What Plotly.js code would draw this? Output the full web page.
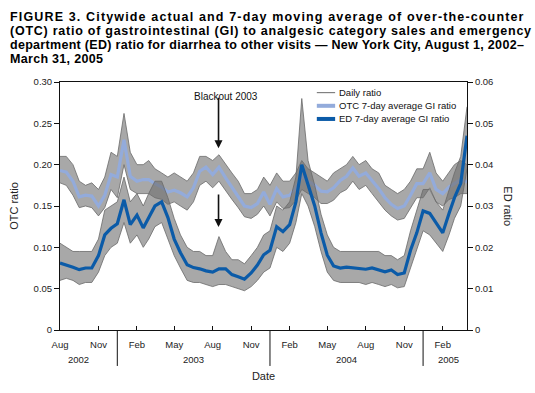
<!DOCTYPE html>
<html>
<head>
<meta charset="utf-8">
<script src="https://cdn.plot.ly/plotly-3.0.1.min.js"></script>
<style>
  html, body { margin: 0; padding: 0; background: #fff; }
  #plot { width: 535px; height: 393px; }
</style>
</head>
<body>
<div id="plot"></div>
<script>
/* ===========================================
   Data (half-month steps)
   =========================================== */

const dates = [
  '2002-08-01','2002-08-16','2002-09-01','2002-09-16','2002-10-01','2002-10-16','2002-11-01','2002-11-16','2002-12-01','2002-12-16',
  '2003-01-01','2003-01-16','2003-02-01','2003-02-16','2003-03-01','2003-03-16','2003-04-01','2003-04-16','2003-05-01','2003-05-16',
  '2003-06-01','2003-06-16','2003-07-01','2003-07-16','2003-08-01','2003-08-16','2003-09-01','2003-09-16','2003-10-01','2003-10-16',
  '2003-11-01','2003-11-16','2003-12-01','2003-12-16','2004-01-01','2004-01-16','2004-02-01','2004-02-16','2004-03-01','2004-03-16',
  '2004-04-01','2004-04-16','2004-05-01','2004-05-16','2004-06-01','2004-06-16','2004-07-01','2004-07-16','2004-08-01','2004-08-16',
  '2004-09-01','2004-09-16','2004-10-01','2004-10-16','2004-11-01','2004-11-16','2004-12-01','2004-12-16','2005-01-01','2005-01-16',
  '2005-02-01','2005-02-16','2005-03-01','2005-03-16','2005-03-31'
];

// OTC ratio, 7-day average (left axis)
const otcAvg = [
  0.193,0.191,0.180,0.161,0.163,0.162,0.150,0.163,0.188,0.185,
  0.230,0.186,0.180,0.182,0.182,0.177,0.173,0.167,0.169,0.166,
  0.161,0.172,0.192,0.197,0.188,0.197,0.184,0.173,0.161,0.150,
  0.148,0.153,0.167,0.152,0.171,0.161,0.163,0.172,0.186,0.180,
  0.175,0.168,0.167,0.172,0.181,0.186,0.196,0.186,0.190,0.181,
  0.171,0.160,0.152,0.147,0.150,0.163,0.177,0.177,0.190,0.170,
  0.165,0.173,0.177,0.182,0.179
];
// OTC daily ratio, upper and lower reach of the daily spikes
const otcHi = [
  0.210,0.210,0.200,0.180,0.175,0.178,0.170,0.185,0.215,0.210,
  0.262,0.215,0.200,0.200,0.205,0.195,0.190,0.185,0.190,0.185,
  0.180,0.190,0.210,0.210,0.205,0.212,0.200,0.190,0.180,0.165,
  0.165,0.170,0.185,0.175,0.190,0.180,0.180,0.190,0.205,0.195,
  0.190,0.185,0.180,0.190,0.195,0.200,0.210,0.200,0.205,0.195,
  0.190,0.175,0.170,0.165,0.170,0.180,0.195,0.195,0.215,0.190,
  0.180,0.190,0.200,0.205,0.200
];
const otcLo = [
  0.178,0.175,0.163,0.148,0.150,0.148,0.138,0.148,0.170,0.160,
  0.200,0.170,0.165,0.165,0.165,0.160,0.158,0.152,0.155,0.150,
  0.145,0.155,0.175,0.180,0.172,0.180,0.168,0.158,0.148,0.137,
  0.135,0.140,0.150,0.138,0.155,0.147,0.148,0.157,0.170,0.165,
  0.160,0.153,0.153,0.157,0.166,0.170,0.180,0.170,0.175,0.165,
  0.155,0.145,0.138,0.133,0.135,0.148,0.160,0.160,0.172,0.155,
  0.150,0.158,0.160,0.165,0.165
];

// ED ratio, 7-day average (right axis)
const edAvg = [
  0.0162,0.0158,0.0152,0.0146,0.0150,0.0150,0.0180,0.0230,0.0246,0.0257,
  0.0315,0.0255,0.0278,0.0247,0.0272,0.0300,0.0310,0.0272,0.0220,0.0187,
  0.0158,0.0151,0.0148,0.0143,0.0140,0.0148,0.0148,0.0134,0.0129,0.0123,
  0.0138,0.0157,0.0182,0.0193,0.0250,0.0238,0.0255,0.0310,0.0400,0.0352,
  0.0300,0.0235,0.0181,0.0155,0.0150,0.0152,0.0151,0.0150,0.0147,0.0150,
  0.0146,0.0141,0.0145,0.0134,0.0138,0.0193,0.0235,0.0288,0.0282,0.0258,
  0.0235,0.0282,0.0320,0.0355,0.0470
];
const edHi = [
  0.0210,0.0200,0.0190,0.0190,0.0190,0.0190,0.0220,0.0290,0.0300,0.0310,
  0.0370,0.0310,0.0330,0.0300,0.0330,0.0360,0.0360,0.0320,0.0270,0.0230,
  0.0200,0.0190,0.0190,0.0180,0.0180,0.0226,0.0190,0.0170,0.0170,0.0160,
  0.0180,0.0200,0.0230,0.0240,0.0300,0.0290,0.0310,0.0370,0.0560,0.0410,
  0.0350,0.0280,0.0230,0.0200,0.0190,0.0190,0.0190,0.0190,0.0190,0.0190,
  0.0190,0.0180,0.0180,0.0170,0.0180,0.0240,0.0290,0.0340,0.0340,0.0310,
  0.0290,0.0340,0.0380,0.0420,0.0540
];
const edLo = [
  0.0120,0.0125,0.0120,0.0110,0.0115,0.0115,0.0140,0.0180,0.0200,0.0210,
  0.0260,0.0210,0.0230,0.0200,0.0220,0.0250,0.0260,0.0220,0.0180,0.0150,
  0.0120,0.0115,0.0115,0.0110,0.0105,0.0110,0.0110,0.0105,0.0100,0.0095,
  0.0105,0.0120,0.0140,0.0150,0.0200,0.0190,0.0210,0.0260,0.0330,0.0300,
  0.0250,0.0190,0.0140,0.0120,0.0115,0.0115,0.0115,0.0115,0.0110,0.0115,
  0.0110,0.0105,0.0110,0.0102,0.0105,0.0150,0.0190,0.0240,0.0230,0.0210,
  0.0190,0.0230,0.0270,0.0300,0.0390
];

// axis ticks
const monthTicks = ['2002-08-01','2002-11-01','2003-02-01','2003-05-01','2003-08-01','2003-11-01',
                    '2004-02-01','2004-05-01','2004-08-01','2004-11-01','2005-02-01'];
const monthLabels = ['Aug','Nov','Feb','May','Aug','Nov','Feb','May','Aug','Nov','Feb'];
const yearLabels = ['2002','2003','2004','2005'];
const yearCenters = ['2002-09-15','2003-06-15','2004-06-15','2005-02-15'];
const yearBreaks = ['2002-12-16','2003-12-16','2004-12-16'];
const otcTicks = [0, 0.05, 0.10, 0.15, 0.20, 0.25, 0.30];
const otcTickText = ['0','0.05','0.10','0.15','0.20','0.25','0.30'];
const edTicks = [0, 0.01, 0.02, 0.03, 0.04, 0.05, 0.06];
const edTickText = ['0','0.01','0.02','0.03','0.04','0.05','0.06'];

const titleLines = [
  'FIGURE 3. Citywide actual and 7-day moving average of over-the-counter',
  '(OTC) ratio of gastrointestinal (GI) to analgesic category sales and emergency',
  'department (ED) ratio for diarrhea to other visits \u2014 New York City, August 1, 2002\u2013',
  'March 31, 2005'
];
const legendNames = ['Daily ratio', 'OTC 7-day average GI ratio', 'ED 7-day average GI ratio'];

/* ===========================================
   Traces
   =========================================== */

const FONT = 'Liberation Sans, Arial, Helvetica, sans-serif';
const GRAY = '#6a6a6a';
const OTC_COLOR = '#93abdb';
const ED_COLOR = '#0b5ba8';

// gray band of daily values: top edge, then bottom edge filled up to it
function dailyBand(hi, lo, axis) {
  return [
    {
      x: dates, y: hi, yaxis: axis, type: 'scatter', mode: 'lines',
      line: { color: GRAY, width: 0.8 }, hoverinfo: 'skip'
    },
    {
      x: dates, y: lo, yaxis: axis, type: 'scatter', mode: 'lines',
      fill: 'tonexty', fillcolor: 'rgba(110,110,110,0.6)',
      line: { color: GRAY, width: 0.8 }, hoverinfo: 'skip'
    }
  ];
}

const traces = [].concat(
  dailyBand(otcHi, otcLo, 'y'),
  [{
    x: dates, y: otcAvg, type: 'scatter', mode: 'lines',
    line: { color: OTC_COLOR, width: 3.2 }
  }],
  dailyBand(edHi, edLo, 'y2'),
  [{
    x: dates, y: edAvg, yaxis: 'y2', type: 'scatter', mode: 'lines',
    line: { color: ED_COLOR, width: 3.2 }
  }]
);

/* ===========================================
   Layout
   =========================================== */

const annotations = [];
const shapes = [];

// title is justified in the original, so spread each line a little
const titleSpacing = [1.15, 0.75, 0.3, 0.3];
titleLines.forEach((t, i) => {
  annotations.push({
    text: '<b><span style="letter-spacing:' + titleSpacing[i] + 'px">' + t + '</span></b>',
    xref: 'paper', yref: 'paper',
    x: -0.128, y: 1.262 - i * 0.0565,
    xanchor: 'left', yanchor: 'middle', align: 'left',
    showarrow: false,
    font: { family: FONT, size: 12.5, color: '#000' }
  });
});

yearLabels.forEach((t, i) => {
  annotations.push({
    text: t, xref: 'x', yref: 'paper',
    x: yearCenters[i], y: -0.117,
    yanchor: 'middle', showarrow: false,
    font: { family: FONT, size: 9.5, color: '#222' }
  });
});

yearBreaks.forEach(d => {
  shapes.push({
    type: 'line', xref: 'x', yref: 'paper',
    x0: d, x1: d, y0: 0, y1: -0.145,
    line: { color: '#111', width: 1 }
  });
});

annotations.push({
  text: 'ED ratio', xref: 'paper', yref: 'paper',
  x: 1.1, y: 0.5, xanchor: 'center', yanchor: 'middle',
  textangle: 90, showarrow: false,
  font: { family: FONT, size: 11, color: '#222' }
});

annotations.push({
  text: 'Blackout 2003', xref: 'x', yref: 'paper',
  x: '2003-09-02', y: 0.972, showarrow: false,
  font: { family: FONT, size: 10, color: '#111' }
});

// two arrows marking the blackout
[[0.220, -52], [0.1246, -34]].forEach(a => {
  annotations.push({
    text: '', xref: 'x', yref: 'y',
    x: '2003-08-15', y: a[0], ax: 0, ay: a[1],
    showarrow: true, arrowhead: 2, arrowsize: 1, arrowwidth: 1.6,
    arrowcolor: '#111', standoff: 0
  });
});

// hand-made legend, rows are tighter than plotly's own
const legendColors = [GRAY, OTC_COLOR, ED_COLOR];
const legendWidths = [1, 4, 4];
legendNames.forEach((name, i) => {
  const yy = 0.957 - i * 0.053;
  shapes.push({
    type: 'line', xref: 'paper', yref: 'paper',
    x0: 0.631, x1: 0.676, y0: yy, y1: yy,
    line: { color: legendColors[i], width: legendWidths[i] }
  });
  annotations.push({
    text: name, xref: 'paper', yref: 'paper',
    x: 0.681, y: yy, xanchor: 'left', yanchor: 'middle',
    showarrow: false,
    font: { family: FONT, size: 9.5, color: '#111' }
  });
});

const layout = {
  width: 535,
  height: 393,
  margin: { l: 60, r: 68, t: 82, b: 63 },
  paper_bgcolor: '#fff',
  plot_bgcolor: '#fff',
  font: { family: FONT, size: 9.5, color: '#222' },
  showlegend: false,
  xaxis: {
    type: 'date',
    range: ['2002-08-01', '2005-03-31'],
    tickvals: monthTicks,
    ticktext: monthLabels,
    ticks: 'inside', ticklen: 4, tickcolor: '#111',
    ticklabelstandoff: 6,
    showline: true, linecolor: '#111', linewidth: 1, mirror: true,
    showgrid: false, zeroline: false,
    tickfont: { family: FONT, size: 9.5, color: '#222' },
    title: { text: 'Date', standoff: 22, font: { family: FONT, size: 11, color: '#222' } }
  },
  yaxis: {
    range: [0, 0.30],
    tickvals: otcTicks, ticktext: otcTickText,
    ticks: 'outside', ticklen: 5, tickcolor: '#111',
    showline: true, linecolor: '#111', linewidth: 1,
    showgrid: false, zeroline: false,
    tickfont: { family: FONT, size: 9.5, color: '#222' },
    title: { text: 'OTC ratio', standoff: 12, font: { family: FONT, size: 11, color: '#222' } }
  },
  yaxis2: {
    range: [0, 0.06],
    overlaying: 'y', side: 'right',
    tickvals: edTicks, ticktext: edTickText,
    ticks: 'outside', ticklen: 5, tickcolor: '#111',
    showline: true, linecolor: '#111', linewidth: 1,
    showgrid: false, zeroline: false,
    tickfont: { family: FONT, size: 9.5, color: '#222' }
  },
  annotations: annotations,
  shapes: shapes
};

Plotly.newPlot('plot', traces, layout, { displayModeBar: false, staticPlot: true });
</script>
</body>
</html>
